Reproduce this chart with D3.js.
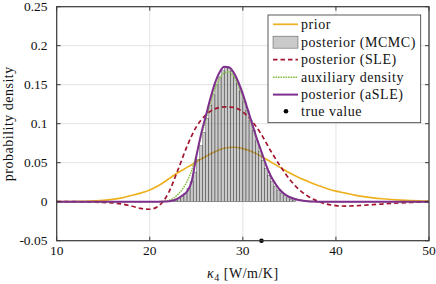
<!DOCTYPE html>
<html>
<head>
<meta charset="utf-8">
<script src="https://cdn.jsdelivr.net/npm/d3@7"></script>
<style>
html,body{margin:0;padding:0;background:#fff;}
svg{display:block;}
text{font-family:"Liberation Serif","Times New Roman",serif;fill:#111;}
</style>
</head>
<body>
<svg id="chart" width="436" height="284"></svg>
<script>
// ---------- data ----------
const xTicks = [10, 20, 30, 40, 50];
const yTicks = [-0.05, 0, 0.05, 0.1, 0.15, 0.2, 0.25];
const yTickLabels = ["-0.05", "0", "0.05", "0.1", "0.15", "0.2", "0.25"];

const coarseX = [10,11,12,13,14,15,16,17,18,19,20,21,22,23,24,25,26,27,28,29,30,
                 31,32,33,34,35,36,37,38,39,40,41,42,43,44,45,46,47,48,49,50];
const priorY = [0,0,0.0002,0.0005,0.001,0.0017,0.003,0.005,0.008,0.011,0.015,0.021,0.029,0.037,0.044,0.051,
                0.058,0.064,0.0685,0.0698,0.068,0.064,0.058,0.051,0.044,0.037,0.031,0.026,0.021,0.017,
                0.0135,0.011,0.0085,0.0066,0.005,0.0038,0.0028,0.002,0.0014,0.001,0.0007];
const sleY = [0,0,0,-0.0003,-0.0006,-0.001,-0.0015,-0.003,-0.0055,-0.0085,-0.0097,-0.005,0.011,0.040,0.071,0.096,
              0.111,0.119,0.1215,0.121,0.115,0.103,0.086,0.065,0.046,0.029,0.016,0.007,0.001,-0.003,
              -0.005,-0.0056,-0.0053,-0.0046,-0.0038,-0.003,-0.0022,-0.0015,-0.001,-0.0005,0];

const fineX = [10,15,20,20.5,21,21.5,22,22.5,23,23.5,24,24.5,25,25.5,26,26.5,27,27.5,28,28.5,29,29.5,
               30,30.5,31,31.5,32,32.5,33,33.5,34,34.5,35,35.5,36,36.5,37,37.5,38,40,45,50];
const asleY = [0,0,0,0,0,0.0002,0.0006,0.0015,0.004,0.008,0.013,0.026,0.058,0.086,0.109,0.132,0.152,0.166,0.173,0.1725,
               0.166,0.154,0.138,0.119,0.100,0.081,0.064,0.047,0.033,0.023,0.015,0.0095,0.006,0.0037,0.0022,0.0013,
               0.0007,0.0003,0,0,0,0];
const auxY = [0,0,0,0,0.0001,0.0005,0.0015,0.004,0.009,0.016,0.026,0.040,0.060,0.083,0.105,0.126,0.145,0.158,0.165,0.1665,
              0.161,0.150,0.135,0.117,0.098,0.080,0.063,0.046,0.033,0.023,0.015,0.010,0.006,0.0038,0.0023,0.0013,
              0.0007,0.0003,0,0,0,0];

const binStart = 22.333, binWidth = 1/3;
const histY = [0.001,0.002,0.004,0.007,0.011,0.017,0.026,0.038,0.054,0.072,0.089,0.107,0.124,0.137,0.150,0.160,
               0.168,0.172,0.171,0.167,0.161,0.152,0.141,0.129,0.117,0.104,0.091,0.078,0.065,0.053,0.043,0.034,
               0.026,0.020,0.015,0.011,0.008,0.005,0.003,0.002];

const trueValue = 32;
const legendLabels = ["prior","posterior (MCMC)","posterior (SLE)","auxiliary density","posterior (aSLE)","true value"];

// ---------- drawing ----------
const svg = d3.select("#chart");
const L = 56.7, R = 429, T = 6.7, B = 240.7;
const x = d3.scaleLinear().domain([10, 50]).range([L, R]);
const y = d3.scaleLinear().domain([-0.05, 0.25]).range([B, T]);

const C = {prior:"#EDB120", sle:"#A2142F", aux:"#86BC45", asle:"#7E2F8E"};

// grid
const grid = svg.append("g");
grid.selectAll(".gx").data(xTicks).join("line")
  .attr("x1", d => x(d)).attr("x2", d => x(d)).attr("y1", T).attr("y2", B)
  .attr("stroke", "#e3e3e3").attr("stroke-width", 1);
grid.selectAll(".gy").data(yTicks).join("line")
  .attr("x1", L).attr("x2", R).attr("y1", d => y(d)).attr("y2", d => y(d))
  .attr("stroke", "#e3e3e3").attr("stroke-width", 1);

const line = d3.line().x(d => x(d[0])).y(d => y(d[1])).curve(d3.curveMonotoneX);

// prior
svg.append("path").datum(coarseX.map((v, i) => [v, priorY[i]]))
  .attr("d", line).attr("fill", "none").attr("stroke", C.prior).attr("stroke-width", 1.7);

// histogram
svg.append("g").selectAll("rect").data(histY).join("rect")
  .attr("x", (d, i) => x(binStart + i * binWidth))
  .attr("width", x(binStart + binWidth) - x(binStart))
  .attr("y", d => y(d)).attr("height", d => y(0) - y(d))
  .attr("fill", "#808080").attr("fill-opacity", 0.42)
  .attr("stroke", "#000").attr("stroke-opacity", 0.55).attr("stroke-width", 0.5);

// SLE
svg.append("path").datum(coarseX.map((v, i) => [v, sleY[i]]))
  .attr("d", line).attr("fill", "none").attr("stroke", C.sle).attr("stroke-width", 1.7)
  .attr("stroke-dasharray", "4.5,3");

// aux
svg.append("path").datum(fineX.map((v, i) => [v, auxY[i]]))
  .attr("d", line).attr("fill", "none").attr("stroke", C.aux).attr("stroke-width", 1.5)
  .attr("stroke-dasharray", "1.6,0.9");

// aSLE
svg.append("path").datum(fineX.map((v, i) => [v, asleY[i]]))
  .attr("d", line).attr("fill", "none").attr("stroke", C.asle).attr("stroke-width", 2);

// true value
svg.append("circle").attr("cx", x(trueValue)).attr("cy", y(-0.05)).attr("r", 2.3).attr("fill", "#000");

// box
const axc = "#3a3a3a";
svg.append("rect").attr("x", L).attr("y", T).attr("width", R - L).attr("height", B - T)
  .attr("fill", "none").attr("stroke", axc).attr("stroke-width", 1.2);

// ticks (inward, all sides)
const tk = 4;
const tg = svg.append("g").attr("stroke", axc).attr("stroke-width", 1);
xTicks.forEach(v => {
  tg.append("line").attr("x1", x(v)).attr("x2", x(v)).attr("y1", B).attr("y2", B - tk);
  tg.append("line").attr("x1", x(v)).attr("x2", x(v)).attr("y1", T).attr("y2", T + tk);
});
yTicks.forEach(v => {
  tg.append("line").attr("x1", L).attr("x2", L + tk).attr("y1", y(v)).attr("y2", y(v));
  tg.append("line").attr("x1", R).attr("x2", R - tk).attr("y1", y(v)).attr("y2", y(v));
});

// tick labels
svg.append("g").selectAll("text").data(xTicks).join("text")
  .attr("x", d => x(d)).attr("y", 255).attr("text-anchor", "middle")
  .attr("font-size", 13.5).text(d => d);
svg.append("g").selectAll("text").data(yTicks).join("text")
  .attr("x", 47.5).attr("y", d => y(d) + 4.6).attr("text-anchor", "end")
  .attr("font-size", 13.5).text((d, i) => yTickLabels[i]);

// axis labels
const xl = svg.append("text").attr("x", (L + R) / 2).attr("y", 278).attr("text-anchor", "middle")
  .attr("font-size", 14).attr("letter-spacing", 0.5);
xl.append("tspan").attr("font-style", "italic").text("κ");
xl.append("tspan").attr("font-size", 10).attr("dy", 3).text("4");
xl.append("tspan").attr("dy", -3).text(" [W/m/K]");

svg.append("text").attr("transform", `translate(12.5,${(T + B) / 2}) rotate(-90)`)
  .attr("text-anchor", "middle").attr("font-size", 14).attr("letter-spacing", 0.5)
  .text("probability density");

// legend
const lg = svg.append("g");
lg.append("rect").attr("x", 268).attr("y", 15).attr("width", 152.7).attr("height", 107.7)
  .attr("fill", "#fff").attr("stroke", "#333").attr("stroke-width", 0.8);
const rowY = [24.3, 42.2, 59.6, 77.2, 94.6, 111.3];
const sx1 = 273, sx2 = 298;
// prior
lg.append("line").attr("x1", sx1).attr("x2", sx2).attr("y1", rowY[0]).attr("y2", rowY[0])
  .attr("stroke", C.prior).attr("stroke-width", 1.7);
// hist
lg.append("rect").attr("x", sx1).attr("y", rowY[1] - 6).attr("width", sx2 - sx1).attr("height", 12)
  .attr("fill", "#808080").attr("fill-opacity", 0.42).attr("stroke", "#000").attr("stroke-opacity", 0.55).attr("stroke-width", 0.6);
// SLE
lg.append("line").attr("x1", sx1).attr("x2", sx2).attr("y1", rowY[2]).attr("y2", rowY[2])
  .attr("stroke", C.sle).attr("stroke-width", 1.7).attr("stroke-dasharray", "4.5,3");
// aux
lg.append("line").attr("x1", sx1).attr("x2", sx2).attr("y1", rowY[3]).attr("y2", rowY[3])
  .attr("stroke", C.aux).attr("stroke-width", 1.5).attr("stroke-dasharray", "1.6,0.9");
// aSLE
lg.append("line").attr("x1", sx1).attr("x2", sx2).attr("y1", rowY[4]).attr("y2", rowY[4])
  .attr("stroke", C.asle).attr("stroke-width", 2);
// true
lg.append("circle").attr("cx", 286).attr("cy", rowY[5]).attr("r", 2.3).attr("fill", "#000");

lg.selectAll("text.lab").data(legendLabels).join("text")
  .attr("x", 301).attr("y", (d, i) => rowY[i] + 4.6)
  .attr("font-size", 14).attr("letter-spacing", 0.55).text(d => d);
</script>
</body>
</html>
